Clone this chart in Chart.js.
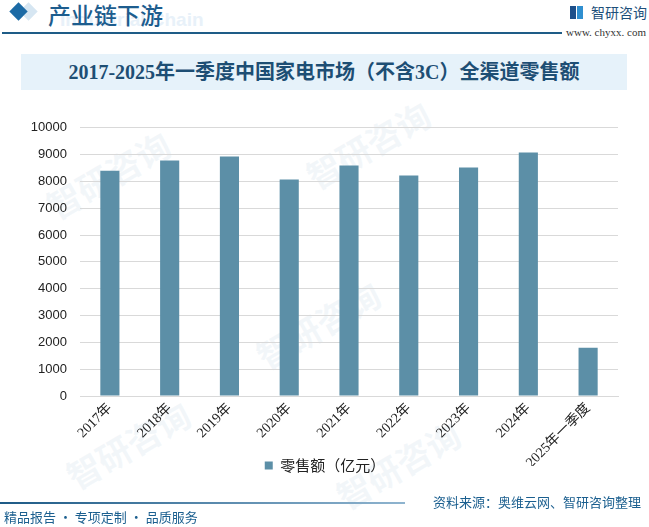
<!DOCTYPE html>
<html>
<head>
<meta charset="utf-8">
<script src="https://cdn.jsdelivr.net/npm/chart.js@4"></script>
<style>
html,body{margin:0;padding:0;background:#fff;}
body{width:649px;height:527px;position:relative;overflow:hidden;font-family:"Noto Sans CJK SC","Noto Sans",sans-serif;}
.abs{position:absolute;white-space:nowrap;}
#wrap{position:absolute;left:0;top:107px;width:649px;height:396px;}
.wm{position:absolute;color:rgba(200,218,232,0.22);font-size:34px;font-weight:700;transform:rotate(-30deg);white-space:nowrap;font-family:"Noto Sans CJK SC",sans-serif;}
</style>
</head>
<body>
<!-- watermarks -->
<div class="wm" style="left:40px;top:150px;">智研咨询</div>
<div class="wm" style="left:250px;top:300px;">智研咨询</div>
<div class="wm" style="left:300px;top:120px;">智研咨询</div>
<div class="wm" style="left:60px;top:420px;">智研咨询</div>
<div class="wm" style="left:330px;top:440px;">智研咨询</div>

<!-- header -->
<div class="abs" style="left:22px;top:5px;width:13px;height:13px;background:#d6e6f2;transform:rotate(45deg);"></div>
<div class="abs" style="left:12px;top:5px;width:13px;height:13px;background:#1b6aa5;transform:rotate(45deg);"></div>
<div class="abs" style="left:60px;top:9px;font:bold 19px 'Liberation Sans',sans-serif;color:#e8f1f9;">Industrial Chain</div>
<div class="abs" style="left:48px;top:-1px;font-size:23px;line-height:30px;color:#1d5d8e;font-family:'Noto Sans CJK SC';font-weight:500;">产业链下游</div>
<div class="abs" style="left:2px;top:32px;width:560px;height:2px;background:#1e5c87;"></div>
<div class="abs" style="left:570px;top:6px;width:13px;height:13px;">
  <div class="abs" style="left:0;top:0;width:6px;height:13px;background:#1d4f8a;"></div>
  <div class="abs" style="left:7px;top:0;width:6px;height:13px;background:#2f8fd0;"></div>
</div>
<div class="abs" style="left:591px;top:2px;font-size:14px;line-height:20px;color:#1d4f7a;">智研咨询</div>
<div class="abs" style="left:566px;top:26px;font:11px 'Liberation Serif',serif;color:#333;">www. chyxx. com</div>

<!-- title box -->
<div class="abs" style="left:21px;top:54px;width:606px;height:36px;background:#e6f2fa;"></div>
<div class="abs" style="left:21px;top:54px;width:606px;height:36px;line-height:36px;text-align:center;font-family:'Liberation Serif','Noto Sans CJK SC',serif;font-weight:bold;font-size:20px;color:#1d4e74;">2017-2025年一季度中国家电市场（不含3C）全渠道零售额</div>

<div id="wrap"><canvas id="c" width="649" height="396"></canvas></div>

<!-- footer -->
<div class="abs" style="left:0;top:502px;width:405px;height:2px;background:linear-gradient(to right,#1d5a86,#8fb4cf);"></div>
<div class="abs" style="left:4px;top:507px;font-size:13px;line-height:20px;color:#1b5f8f;">精品报告 · 专项定制 · 品质服务</div>
<div class="abs" style="right:8px;top:492px;font-size:13px;line-height:20px;color:#1b5f8f;">资料来源：奥维云网、智研咨询整理</div>

<script>
const categories = ["2017年","2018年","2019年","2020年","2021年","2022年","2023年","2024年","2025年一季度"];
const retailSales = [8400, 8780, 8930, 8070, 8590, 8220, 8520, 9080, 1800];
const seriesName = "零售额（亿元）";
const yTicks = [0,1000,2000,3000,4000,5000,6000,7000,8000,9000,10000];

const legendShift = {
  id: 'legendShift',
  afterLayout(chart) {
    const lg = chart.legend;
    if (lg) { lg.top -= 18; lg.bottom -= 18; lg.left += 16; lg.right += 16; }
  }
};

new Chart(document.getElementById('c'), {
  type: 'bar',
  data: {
    labels: categories,
    datasets: [{
      label: seriesName,
      data: retailSales,
      backgroundColor: '#5c8fa7',
      borderWidth: 0,
      categoryPercentage: 1.0,
      barPercentage: 0.32
    }]
  },
  plugins: [legendShift],
  options: {
    responsive: false,
    animation: false,
    layout: { padding: { top: 9, right: 31, left: 0, bottom: 2 } },
    plugins: {
      legend: {
        position: 'bottom',
        labels: {
          boxWidth: 8, boxHeight: 8, padding: 10,
          color: '#222',
          font: { family: "'Noto Sans CJK SC', sans-serif", size: 15 }
        }
      },
      tooltip: { enabled: false }
    },
    scales: {
      y: {
        min: 0, max: 10000,
        afterBuildTicks: (s) => { s.ticks = yTicks.map(v => ({ value: v })); },
        afterFit: (s) => { s.width = 80; },
        grid: { color: '#d9d9d9', lineWidth: 1, drawTicks: false },
        border: { display: false },
        ticks: {
          padding: 13,
          color: '#222',
          callback: (v) => String(v),
          font: { family: "'Liberation Sans', sans-serif", size: 13 }
        }
      },
      x: {
        afterFit: (s) => { s.height = 70; },
        grid: { display: false, drawTicks: false },
        border: { display: true, color: '#d9d9d9' },
        ticks: {
          minRotation: 45, maxRotation: 45,
          padding: 4,
          autoSkip: false,
          color: '#222',
          font: { family: "'Liberation Serif', 'Noto Sans CJK SC', serif", size: 14 }
        }
      }
    }
  }
});
</script>
</body>
</html>
